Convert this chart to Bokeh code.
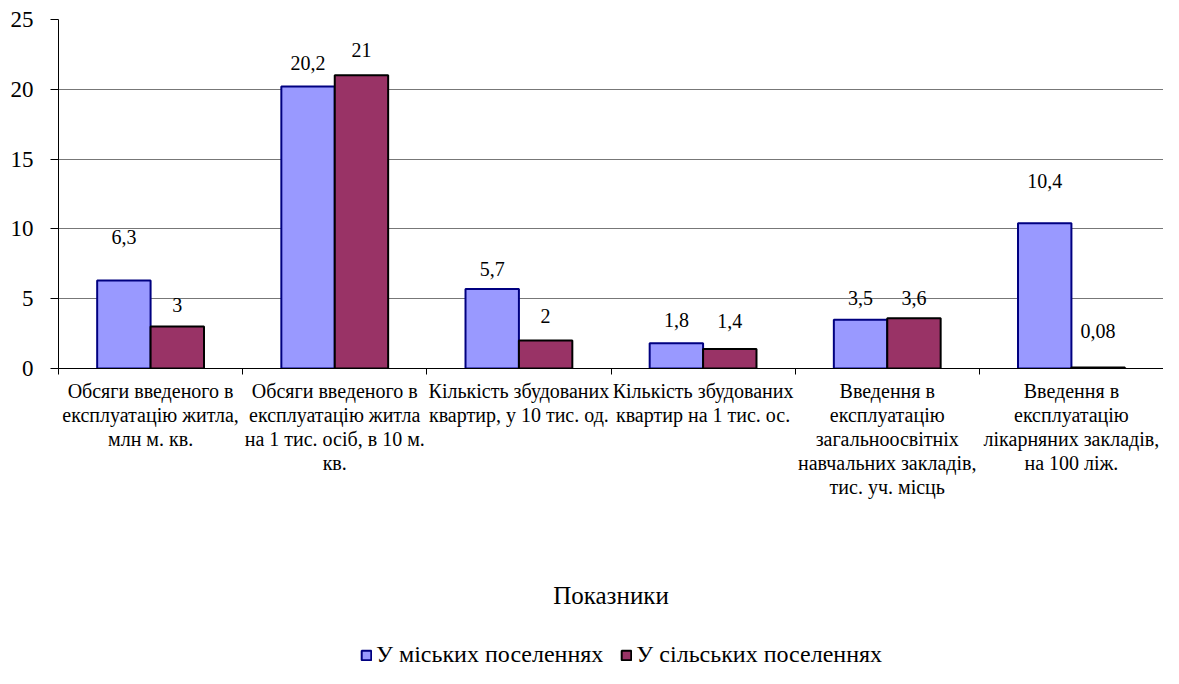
from bokeh.plotting import figure
from bokeh.models import FixedTicker, Legend, LegendItem, ColumnDataSource
from bokeh.layouts import column
from bokeh.core.properties import value
from bokeh.embed import file_html
from bokeh.resources import INLINE
import numpy as np

categories = [
    "Обсяги введеного в\nексплуатацію житла,\nмлн м. кв.",
    "Обсяги введеного в\nексплуатацію житла\nна 1 тис. осіб, в 10 м.\nкв.",
    "Кількість збудованих\nквартир, у 10 тис. од.",
    "Кількість збудованих\nквартир на 1 тис. ос.",
    "Введення в\nексплуатацію\nзагальноосвітніх\nнавчальних закладів,\nтис. уч. місць",
    "Введення в\nексплуатацію\nлікарняних закладів,\nна 100 ліж.",
]
urban = [6.3, 20.2, 5.7, 1.8, 3.5, 10.4]
rural = [3, 21, 2, 1.4, 3.6, 0.08]
series_names = ["У міських поселеннях", "У сільських поселеннях"]
y_ticks = [0, 5, 10, 15, 20, 25]
x_title = "Показники"

# label offsets above bar tops (px), style only
urban_dy = [44, 24, 20, 23, 22, 42]
rural_dy = [22, 25, 25, 28, 20, 36]

FONT = "'Liberation Serif'"
BLUE = "#9999FF"
MAROON = "#993366"
BLUE_LINE = "#000080"
MAROON_LINE = "black"

n = len(categories)
centers = np.arange(n) + 0.5
bw = 0.29

def fmt(v):
    return f"{v:g}".replace(".", ",")

W = 1163
H1 = 620
H2 = 48

p = figure(width=W, height=H1, output_backend="svg", toolbar_location=None,
           x_range=(0, n), y_range=(0, 25),
           min_border_left=58, min_border_top=19, min_border_right=0,
           min_border_bottom=252)
p.outline_line_color = None
p.background_fill_color = "white"
p.border_fill_color = "white"

src_u = ColumnDataSource(dict(x=centers - bw / 2, top=urban,
                              lab=[fmt(v) for v in urban],
                              dy=[-d for d in urban_dy]))
src_r = ColumnDataSource(dict(x=centers + bw / 2, top=rural,
                              lab=[fmt(v) for v in rural],
                              dy=[-d for d in rural_dy]))

p.vbar(x="x", top="top", width=bw, source=src_u, fill_color=BLUE,
       line_color=BLUE_LINE, line_width=2)
p.vbar(x="x", top="top", width=bw, source=src_r, fill_color=MAROON,
       line_color=MAROON_LINE, line_width=2)

for src in (src_u, src_r):
    p.text(x="x", y="top", text="lab", source=src, y_offset="dy",
           text_align="center", text_baseline="middle",
           text_font=value(FONT), text_font_size="20px", text_color="black")

# x axis: category labels centred, boundary ticks as minor ticks
p.xaxis.ticker = FixedTicker(ticks=list(centers), minor_ticks=list(range(n + 1)))
p.xaxis.major_label_overrides = {float(c): lab for c, lab in zip(centers, categories)}
p.xaxis.major_tick_line_color = None
p.xaxis.minor_tick_line_color = "black"
p.xaxis.minor_tick_out = 6
p.xaxis.minor_tick_in = 0
p.xaxis.axis_line_color = "black"
p.xaxis.major_label_text_font = FONT
p.xaxis.major_label_text_font_size = "20px"
p.xaxis.major_label_text_line_height = 1.1
p.xaxis.major_label_text_color = "black"
p.xaxis.major_label_standoff = 5
p.xaxis.axis_label = x_title
p.xaxis.axis_label_text_font = FONT
p.xaxis.axis_label_text_font_size = "25px"
p.xaxis.axis_label_text_font_style = "normal"
p.xaxis.axis_label_text_color = "black"
p.xaxis.axis_label_standoff = 81

p.yaxis.ticker = FixedTicker(ticks=y_ticks)
p.yaxis.minor_tick_line_color = None
p.yaxis.major_tick_out = 8
p.yaxis.major_tick_in = 0
p.yaxis.axis_line_color = "black"
p.yaxis.major_tick_line_color = "black"
p.yaxis.major_label_text_font = FONT
p.yaxis.major_label_text_font_size = "23px"
p.yaxis.major_label_text_color = "black"
p.yaxis.major_label_standoff = 17

p.xgrid.grid_line_color = None
p.ygrid.grid_line_color = "#777777"
p.ygrid.grid_line_width = 1

# legend strip below the chart; hidden proxy bars only supply the legend swatches
q = figure(width=W, height=H2, output_backend="svg", toolbar_location=None,
           x_range=(0, n), y_range=(-2, -1), min_border=0)
q.axis.visible = False
q.grid.visible = False
q.outline_line_color = None
q.background_fill_color = "white"
q.border_fill_color = "white"
l_u = q.vbar(x="x", top="top", width=bw, source=src_u, fill_color=BLUE,
             line_color=BLUE_LINE, line_width=2, visible=False)
l_r = q.vbar(x="x", top="top", width=bw, source=src_r, fill_color=MAROON,
             line_color=MAROON_LINE, line_width=2, visible=False)
legend = Legend(items=[LegendItem(label=series_names[0], renderers=[l_u]),
                       LegendItem(label=series_names[1], renderers=[l_r])],
                orientation="horizontal", location=(302, 0),
                padding=0, margin=0, spacing=17, label_standoff=4,
                glyph_width=12, glyph_height=12,
                label_text_font=FONT, label_text_font_size="24px",
                label_text_color="black",
                inactive_fill_alpha=0,
                border_line_color=None, background_fill_alpha=0)
q.add_layout(legend, "center")

layout = column(p, q, spacing=0)
open("out.html", "w").write(file_html(layout, INLINE))
